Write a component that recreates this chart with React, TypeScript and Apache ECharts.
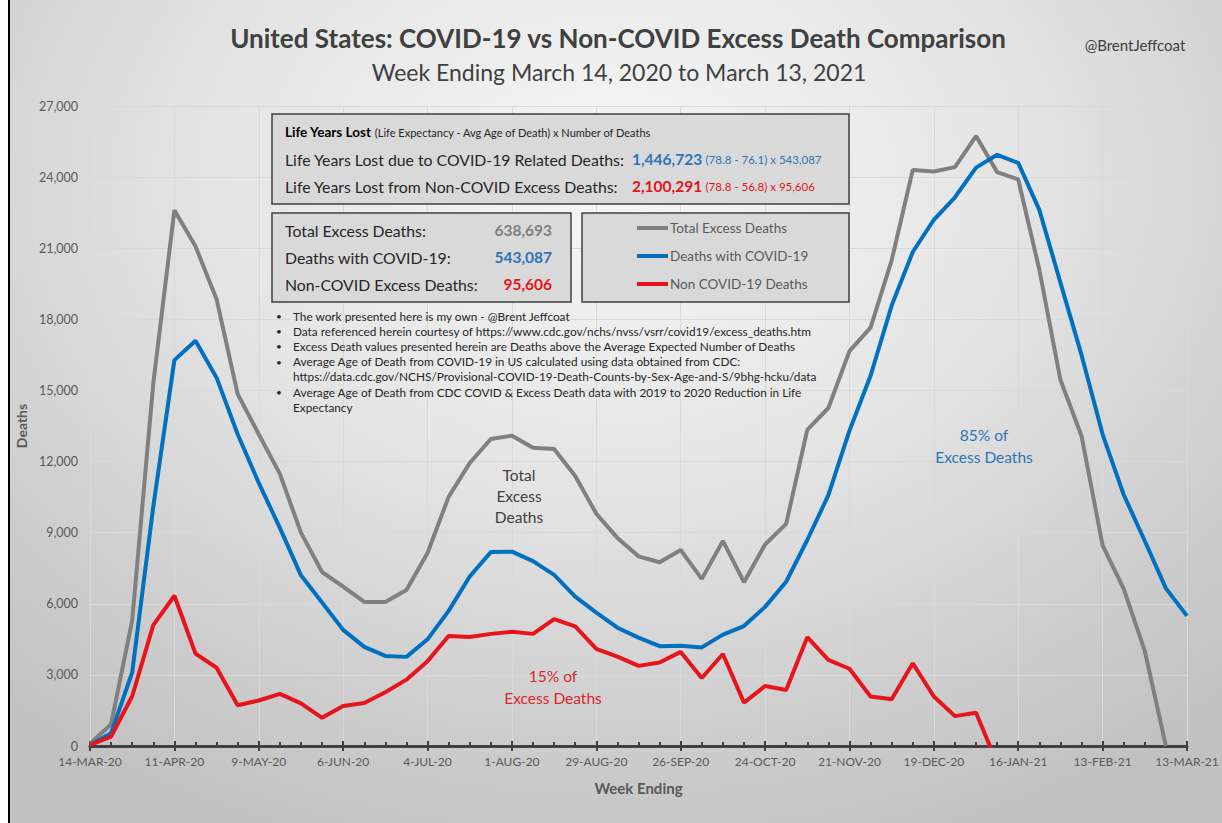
import React, { useEffect, useRef } from "react";
import * as echarts from "echarts";

const weeks = [
  "14-MAR-20", "21-MAR-20", "28-MAR-20", "4-APR-20", "11-APR-20", "18-APR-20", "25-APR-20",
  "2-MAY-20", "9-MAY-20", "16-MAY-20", "23-MAY-20", "30-MAY-20", "6-JUN-20", "13-JUN-20",
  "20-JUN-20", "27-JUN-20", "4-JUL-20", "11-JUL-20", "18-JUL-20", "25-JUL-20", "1-AUG-20",
  "8-AUG-20", "15-AUG-20", "22-AUG-20", "29-AUG-20", "5-SEP-20", "12-SEP-20", "19-SEP-20",
  "26-SEP-20", "3-OCT-20", "10-OCT-20", "17-OCT-20", "24-OCT-20", "31-OCT-20", "7-NOV-20",
  "14-NOV-20", "21-NOV-20", "28-NOV-20", "5-DEC-20", "12-DEC-20", "19-DEC-20", "26-DEC-20",
  "2-JAN-21", "9-JAN-21", "16-JAN-21", "23-JAN-21", "30-JAN-21", "6-FEB-21", "13-FEB-21",
  "20-FEB-21", "27-FEB-21", "6-MAR-21", "13-MAR-21",
];

const totalExcess = [
  100, 920, 5300, 15300, 22600, 21080, 18850, 14850, 13150, 11480, 9000,
  7340, 6720, 6080, 6080, 6580, 8140, 10510, 11940, 12950, 13090, 12580,
  12530, 11390, 9800, 8780, 8000, 7750, 8270, 7050, 8650, 6910, 8500,
  9370, 13340, 14260, 16660, 17650, 20490, 24300, 24240, 24420, 25730,
  24210, 23900, 20100, 15450, 13080, 8460, 6630, 4010, 0, null,
];

const covidDeaths = [
  50, 540, 3100, 10100, 16280, 17100, 15540, 13150, 11100, 9200, 7200,
  6050, 4900, 4180, 3800, 3760, 4500, 5700, 7150, 8180, 8200, 7800,
  7220, 6300, 5630, 4990, 4570, 4210, 4230, 4160, 4700, 5060, 5870,
  6930, 8690, 10580, 13300, 15620, 18580, 20840, 22200, 23150, 24400,
  24940, 24600, 22620, 19550, 16500, 13150, 10600, 8650, 6650, 5490,
];

const nonCovidDeaths = [
  50, 400, 2100, 5100, 6340, 3900, 3300, 1720, 1920, 2200, 1800,
  1190, 1690, 1810, 2270, 2800, 3580, 4640, 4600, 4730, 4820, 4730,
  5350, 5050, 4100, 3770, 3380, 3520, 3970, 2870, 3880, 1830, 2530,
  2360, 4590, 3630, 3260, 2090, 1970, 3490, 2090, 1260, 1400,
  -730, null, null, null, null, null, null, null, null, null,
];

const seriesNames = ["Total Excess Deaths", "Deaths with COVID-19", "Non COVID-19 Deaths"];

const summaryLabels = ["Total Excess Deaths:", "Deaths with COVID-19:", "Non-COVID Excess Deaths:"];
const summaryValues = ["638,693", "543,087", "95,606"];

const notes = [
  { bullet: true, text: "The work presented here is my own - @Brent Jeffcoat" },
  { bullet: true, text: "Data referenced herein courtesy of https://www.cdc.gov/nchs/nvss/vsrr/covid19/excess_deaths.htm" },
  { bullet: true, text: "Excess Death values presented herein are Deaths above the Average Expected Number of Deaths" },
  { bullet: true, text: "Average Age of Death from COVID-19 in US calculated using data obtained from CDC:" },
  { bullet: false, text: "https://data.cdc.gov/NCHS/Provisional-COVID-19-Death-Counts-by-Sex-Age-and-S/9bhg-hcku/data" },
  { bullet: true, text: "Average Age of Death from CDC COVID & Excess Death data with 2019 to 2020 Reduction in Life" },
  { bullet: false, text: "Expectancy" },
];

const FONT = "Lato, 'Open Sans', sans-serif";
const GRAY = "#808080";
const BLUE = "#0070c0";
const RED = "#e8141b";
const TXT_BLUE = "#2e75b6";
const TXT_RED = "#e3141b";

export default function App() {
  const ref = useRef<HTMLDivElement>(null);

  useEffect(() => {
    document.body.style.margin = "0";
    if (!ref.current) return;
    const chart = echarts.init(ref.current, undefined, { renderer: "svg" });

    const valueColors = ["#7f7f7f", TXT_BLUE, TXT_RED];
    const summaryGraphics: any[] = [];
    summaryLabels.forEach((lab, i) => {
      const y = 230 + i * 27;
      summaryGraphics.push({
        type: "text", x: 285, y, z: 20,
        style: { text: lab, fontFamily: FONT, fontSize: 15.8, fill: "#262626", textVerticalAlign: "middle" },
      });
      summaryGraphics.push({
        type: "text", x: 552, y, z: 20,
        style: { text: summaryValues[i], fontFamily: FONT, fontSize: 15.5, fontWeight: "bold", fill: valueColors[i], textAlign: "right", textVerticalAlign: "middle" },
      });
    });

    const noteGraphics: any[] = [];
    notes.forEach((n, i) => {
      const y = 316 + i * 15.2;
      if (n.bullet) {
        noteGraphics.push({
          type: "text", x: 276, y, z: 20,
          style: { text: "•", fontFamily: FONT, fontSize: 10, fill: "#262626", textVerticalAlign: "middle" },
        });
      }
      noteGraphics.push({
        type: "text", x: 293, y, z: 20,
        style: { text: n.text, fontFamily: FONT, fontSize: 11.8, fill: "#262626", textVerticalAlign: "middle" },
      });
    });

    const option: any = {
      animation: false,
      backgroundColor: "transparent",
      textStyle: { fontFamily: FONT },
      grid: { left: 90, right: 35, top: 106, bottom: 77, containLabel: false },
      legend: {
        data: seriesNames,
        orient: "vertical",
        left: 637,
        top: 221,
        padding: 0,
        itemWidth: 31,
        itemHeight: 4,
        itemGap: 14,
        icon: "rect",
        z: 30,
        textStyle: { fontFamily: FONT, fontSize: 13.5, color: "#595959", padding: [0, 0, 0, -3] },
      },
      xAxis: [
        {
          type: "category",
          data: weeks,
          boundaryGap: false,
          name: "Week Ending",
          nameLocation: "middle",
          nameGap: 34,
          nameTextStyle: { fontFamily: FONT, fontSize: 15, fontWeight: "bold", color: "#595959" },
          axisLine: { lineStyle: { color: "#404040", width: 3 } },
          axisTick: { show: true, interval: 0, inside: true, length: 4, lineStyle: { color: "#404040", width: 2 } },
          axisLabel: { interval: 3, color: "#595959", fontSize: 12, margin: 9, fontFamily: FONT },
          splitLine: { show: true, interval: 3, lineStyle: { color: "#d9d9d9", width: 1 } },
        },
        {
          type: "category",
          data: weeks,
          boundaryGap: false,
          position: "bottom",
          offset: -5,
          axisLine: { show: false },
          axisTick: { show: true, interval: 3, length: 10, lineStyle: { color: "#404040", width: 2 } },
          axisLabel: { show: false },
          splitLine: { show: false },
        },
      ],
      yAxis: {
        type: "value",
        min: 0,
        max: 27000,
        interval: 3000,
        name: "Deaths",
        nameLocation: "middle",
        nameGap: 56,
        nameTextStyle: { fontFamily: FONT, fontSize: 14, fontWeight: "bold", color: "#595959" },
        axisLine: { show: false },
        axisTick: { show: false },
        axisLabel: {
          color: "#595959",
          fontSize: 12.5,
          margin: 12,
          fontFamily: FONT,
          formatter: (v: number) => v.toLocaleString("en-US"),
        },
        splitLine: { lineStyle: { color: "#d9d9d9", width: 1 } },
      },
      series: [
        {
          name: seriesNames[0], type: "line", data: totalExcess, xAxisIndex: 0,
          symbol: "none", showSymbol: false, clip: true, connectNulls: false,
          lineStyle: { color: GRAY, width: 4 }, itemStyle: { color: GRAY }, z: 3,
        },
        {
          name: seriesNames[1], type: "line", data: covidDeaths, xAxisIndex: 0,
          symbol: "none", showSymbol: false, clip: true,
          lineStyle: { color: BLUE, width: 4 }, itemStyle: { color: BLUE }, z: 4,
        },
        {
          name: seriesNames[2], type: "line", data: nonCovidDeaths, xAxisIndex: 0,
          symbol: "none", showSymbol: false, clip: true, connectNulls: false,
          lineStyle: { color: RED, width: 4 }, itemStyle: { color: RED }, z: 5,
        },
      ],
      graphic: [
        { type: "rect", z: 100, shape: { x: 0, y: 0, width: 8, height: 823 }, style: { fill: "#ffffff" } },
        { type: "rect", z: 100, shape: { x: 8, y: 0, width: 2, height: 823 }, style: { fill: "#000000" } },
        {
          type: "text", x: 618, y: 38, z: 20,
          style: {
            text: "United States: COVID-19 vs Non-COVID Excess Death Comparison",
            fontFamily: FONT, fontSize: 26, fontWeight: "bold", fill: "#404040",
            textAlign: "center", textVerticalAlign: "middle",
          },
        },
        {
          type: "text", x: 619, y: 72, z: 20,
          style: {
            text: "Week Ending March 14, 2020 to March 13, 2021",
            fontFamily: FONT, fontSize: 23, fill: "#404040",
            textAlign: "center", textVerticalAlign: "middle",
          },
        },
        {
          type: "text", x: 1135, y: 45, z: 20,
          style: {
            text: "@BrentJeffcoat", fontFamily: FONT, fontSize: 15, fill: "#404040",
            textAlign: "center", textVerticalAlign: "middle",
          },
        },
        // Boxes
        { type: "rect", z: 10, shape: { x: 272, y: 114, width: 577, height: 90 }, style: { fill: "#d9d9d9", stroke: "#404040", lineWidth: 1.5 } },
        { type: "rect", z: 10, shape: { x: 272, y: 213, width: 299, height: 89 }, style: { fill: "#d9d9d9", stroke: "#404040", lineWidth: 1.5 } },
        { type: "rect", z: 10, shape: { x: 582, y: 213, width: 267, height: 89 }, style: { fill: "#d9d9d9", stroke: "#404040", lineWidth: 1.5 } },
        {
          type: "text", x: 285, y: 132, z: 20,
          style: {
            text: "{b|Life Years Lost} {s|(Life Expectancy - Avg Age of Death) x Number of Deaths}",
            textVerticalAlign: "middle",
            rich: {
              b: { fontFamily: FONT, fontSize: 13.5, fontWeight: "bold", fill: "#000000", color: "#000000" },
              s: { fontFamily: FONT, fontSize: 11, fill: "#262626", color: "#262626" },
            },
          },
        },
        {
          type: "text", x: 285, y: 159, z: 20,
          style: { text: "Life Years Lost due to COVID-19 Related Deaths:", fontFamily: FONT, fontSize: 15.8, fill: "#262626", textVerticalAlign: "middle" },
        },
        {
          type: "text", x: 285, y: 186, z: 20,
          style: { text: "Life Years Lost from Non-COVID Excess Deaths:", fontFamily: FONT, fontSize: 15.8, fill: "#262626", textVerticalAlign: "middle" },
        },
        {
          type: "text", x: 632, y: 159, z: 20,
          style: {
            text: "{v|1,446,723} {s|(78.8 - 76.1) x 543,087}",
            textVerticalAlign: "middle",
            rich: {
              v: { fontFamily: FONT, fontSize: 15.5, fontWeight: "bold", fill: TXT_BLUE, color: TXT_BLUE },
              s: { fontFamily: FONT, fontSize: 11.5, fill: TXT_BLUE, color: TXT_BLUE },
            },
          },
        },
        {
          type: "text", x: 632, y: 186, z: 20,
          style: {
            text: "{v|2,100,291} {s|(78.8 - 56.8) x 95,606}",
            textVerticalAlign: "middle",
            rich: {
              v: { fontFamily: FONT, fontSize: 15.5, fontWeight: "bold", fill: TXT_RED, color: TXT_RED },
              s: { fontFamily: FONT, fontSize: 11.5, fill: TXT_RED, color: TXT_RED },
            },
          },
        },
        ...summaryGraphics,
        ...noteGraphics,
        // Annotations
        {
          type: "text", x: 519, y: 496, z: 20,
          style: {
            text: "Total\nExcess\nDeaths", fontFamily: FONT, fontSize: 15.5, fill: "#404040",
            textAlign: "center", textVerticalAlign: "middle", lineHeight: 21,
          },
        },
        {
          type: "text", x: 553, y: 687, z: 20,
          style: {
            text: "15% of\nExcess Deaths", fontFamily: FONT, fontSize: 15.5, fill: "#d9262e",
            textAlign: "center", textVerticalAlign: "middle", lineHeight: 22,
          },
        },
        {
          type: "text", x: 984, y: 446, z: 20,
          style: {
            text: "85% of\nExcess Deaths", fontFamily: FONT, fontSize: 15.5, fill: TXT_BLUE,
            textAlign: "center", textVerticalAlign: "middle", lineHeight: 22,
          },
        },
      ],
    };

    chart.setOption(option);
    return () => chart.dispose();
  }, []);

  return (
    <div
      ref={ref}
      style={{
        width: 1222,
        height: 823,
        background: "radial-gradient(ellipse 75% 85% at 50% 22%, #f7f7f7 0%, #e4e4e4 45%, #cdcdcd 80%, #c2c2c2 100%)",
      }}
    />
  );
}
